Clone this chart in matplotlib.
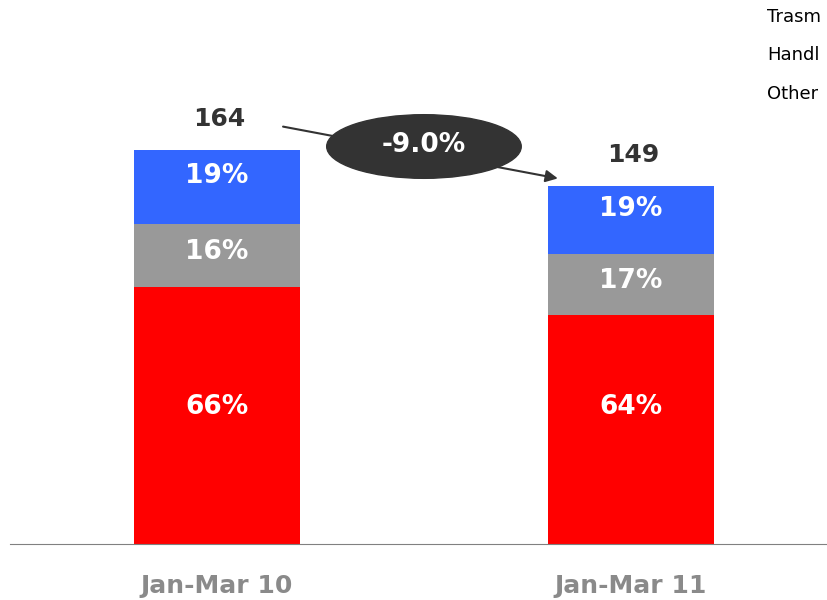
import matplotlib.pyplot as plt
from matplotlib.patches import Ellipse

# data
categories = ['Jan-Mar 10', 'Jan-Mar 11']
totals = [164, 149]
share_red = [66, 64]
share_grey = [16, 17]
share_blue = [19, 19]
change_label = '-9.0%'
legend_labels = ['Trasm', 'Handl', 'Other']

colors = ['#FF0000', '#999999', '#3366FF']
# label offsets from segment middle (data units), red ones sit at a fixed height
label_shift = [None, 1.5, 4.5]

fig = plt.figure(figsize=(8.28, 6), dpi=100)
ax = fig.add_axes([10 / 828, 56 / 600, 818 / 828, 544 / 600])

x = list(range(len(categories)))
bottom = [0.0] * len(x)
for shares, col, shift in zip([share_red, share_grey, share_blue], colors, label_shift):
    heights = []
    for i in x:
        s = share_red[i] + share_grey[i] + share_blue[i]
        heights.append(totals[i] * shares[i] / s)
    ax.bar(x, heights, width=0.40, bottom=bottom, color=col, linewidth=0)
    for i in x:
        y = 57 if shift is None else bottom[i] + heights[i] / 2 + shift
        ax.text(i, y, f'{shares[i]}%', ha='center', va='center',
                color='white', fontsize=19, fontweight='bold')
    bottom = [b + h for b, h in zip(bottom, heights)]

for i in x:
    ax.text(i + 0.005, totals[i] + 13, str(totals[i]), ha='center', va='center',
            color='#333333', fontsize=18, fontweight='bold')

# change arrow + ellipse
ax.annotate('', xy=(0.83, totals[1] + 3), xytext=(0.153, totals[0] + 10),
            arrowprops=dict(arrowstyle='-|>', color='#333333', lw=1.5, mutation_scale=18))
ax.add_patch(Ellipse((0.5, 165.5), 0.47, 26.5, color='#333333', zorder=3))
ax.text(0.5, 166, change_label, ha='center', va='center', color='white',
        fontsize=19, fontweight='bold', zorder=4)

ax.set_xlim(-0.5, 1.476)
ax.set_ylim(0, 226.5)
for s in ['top', 'right', 'left']:
    ax.spines[s].set_visible(False)
ax.spines['bottom'].set_color('#808080')
ax.set_yticks([])
ax.set_xticks(x)
ax.set_xticklabels(categories, fontsize=18, fontweight='bold', color='#8a8a8a')
ax.tick_params(axis='x', length=0, pad=21.5)

for k, lab in enumerate(legend_labels):
    fig.text(767 / 828, 1 - (17 + 38.5 * k) / 600, lab, ha='left', va='center',
             fontsize=13, color='black')

fig.savefig('out.png', dpi=100)
